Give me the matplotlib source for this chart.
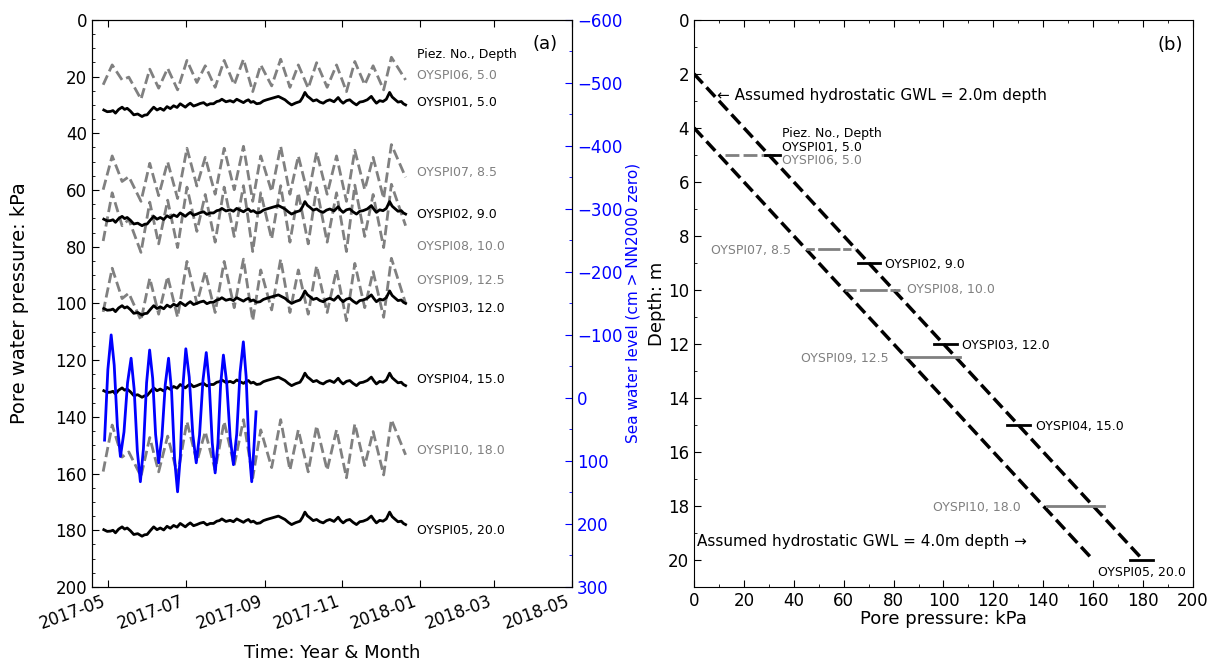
"""Pore water pressure time series (a) and pressure-depth profile (b)."""

import matplotlib
matplotlib.use("Agg")
import matplotlib.pyplot as plt
import matplotlib.dates as mdates
from matplotlib.ticker import MultipleLocator
import pandas as pd

START = pd.Timestamp("2017-05-01")

# ---- panel (a): time series, time in days after 2017-05-01 ----
solid_days = [
    -3.7, -1.0, 1.6, 3.5, 5.5, 8.0, 10.7, 12.7, 14.7, 17.3,
    19.9, 23.0, 26.4, 28.4, 30.4, 33.0, 35.6, 38.2, 40.8, 43.5,
    46.1, 48.7, 51.3, 54.0, 56.5, 58.5, 60.5, 62.5, 64.4, 67.0,
    69.6, 72.2, 74.9, 77.5, 80.1, 82.7, 85.3, 87.3, 89.3, 92.5,
    95.8, 98.4, 101.0, 103.6, 106.3, 108.2, 110.2, 112.1, 114.1, 116.7,
    119.4, 122.0, 124.6, 129.2, 133.8, 136.4, 139.0, 141.6, 144.2, 147.5,
    150.8, 152.7, 154.7, 156.6, 158.6, 161.2, 163.9, 166.5, 169.1, 171.7,
    174.3, 177.6, 180.9, 182.8, 184.8, 187.4, 190.0, 192.6, 195.3, 197.9,
    200.5, 203.8, 207.0, 209.0, 211.0, 213.6, 216.2, 218.8, 221.4, 223.4,
    225.4, 228.0, 230.6, 232.3, 234.0,
]
oyspi01 = [
    31.8, 32.4, 32.3, 32.0, 32.9, 31.6, 30.8, 31.6, 31.2, 32.2,
    33.5, 33.2, 34.1, 33.6, 33.5, 32.1, 30.8, 31.8, 31.2, 31.9,
    30.6, 31.3, 30.3, 30.9, 29.6, 30.2, 30.8, 30.0, 29.4, 30.4,
    30.0, 29.5, 29.2, 30.1, 29.6, 29.6, 28.8, 28.6, 28.0, 28.9,
    28.5, 29.0, 28.0, 28.6, 29.2, 28.6, 28.2, 29.1, 28.8, 29.6,
    29.4, 28.6, 28.2, 27.6, 27.0, 27.6, 28.2, 29.2, 30.0, 29.3,
    28.8, 27.5, 25.6, 26.9, 27.6, 28.6, 28.2, 29.0, 29.4, 28.6,
    28.2, 28.9, 27.4, 28.6, 29.4, 28.5, 28.2, 29.2, 30.0, 29.0,
    28.8, 28.2, 27.0, 28.3, 29.4, 28.5, 28.8, 28.0, 25.6, 27.2,
    28.0, 29.0, 28.8, 29.6, 30.0,
]
oyspi02 = [
    70.3, 70.9, 70.8, 70.5, 71.4, 70.1, 69.3, 70.1, 69.7, 70.7,
    72.0, 71.7, 72.6, 72.1, 72.0, 70.6, 69.3, 70.3, 69.7, 70.4,
    69.1, 69.8, 68.8, 69.4, 68.1, 68.7, 69.3, 68.5, 67.9, 68.9,
    68.5, 68.0, 67.7, 68.6, 68.1, 68.1, 67.3, 67.1, 66.5, 67.4,
    67.0, 67.5, 66.5, 67.1, 67.7, 67.1, 66.7, 67.6, 67.3, 68.1,
    67.9, 67.1, 66.7, 66.1, 65.5, 66.1, 66.7, 67.7, 68.5, 67.8,
    67.3, 66.0, 64.1, 65.4, 66.1, 67.1, 66.7, 67.5, 67.9, 67.1,
    66.7, 67.4, 65.9, 67.1, 67.9, 67.0, 66.7, 67.7, 68.5, 67.5,
    67.3, 66.7, 65.5, 66.8, 67.9, 67.0, 67.3, 66.5, 64.1, 65.7,
    66.5, 67.5, 67.3, 68.1, 68.5,
]
oyspi03 = [
    101.8, 102.4, 102.3, 102.0, 102.9, 101.6, 100.8, 101.6, 101.2, 102.2,
    103.5, 103.2, 104.1, 103.6, 103.5, 102.1, 100.8, 101.8, 101.2, 101.9,
    100.6, 101.3, 100.3, 100.9, 99.6, 100.2, 100.8, 100.0, 99.4, 100.4,
    100.0, 99.5, 99.2, 100.1, 99.6, 99.6, 98.8, 98.6, 98.0, 98.9,
    98.5, 99.0, 98.0, 98.6, 99.2, 98.6, 98.2, 99.1, 98.8, 99.6,
    99.4, 98.6, 98.2, 97.6, 97.0, 97.6, 98.2, 99.2, 100.0, 99.3,
    98.8, 97.5, 95.6, 96.9, 97.6, 98.6, 98.2, 99.0, 99.4, 98.6,
    98.2, 98.9, 97.4, 98.6, 99.4, 98.5, 98.2, 99.2, 100.0, 99.0,
    98.8, 98.2, 97.0, 98.3, 99.4, 98.5, 98.8, 98.0, 95.6, 97.2,
    98.0, 99.0, 98.8, 99.6, 100.0,
]
oyspi04 = [
    130.8, 131.4, 131.3, 131.0, 131.9, 130.6, 129.8, 130.6, 130.2, 131.2,
    132.5, 132.2, 133.1, 132.6, 132.5, 131.1, 129.8, 130.8, 130.2, 130.9,
    129.6, 130.3, 129.3, 129.9, 128.6, 129.2, 129.8, 129.0, 128.4, 129.4,
    129.0, 128.5, 128.2, 129.1, 128.6, 128.6, 127.8, 127.6, 127.0, 127.9,
    127.5, 128.0, 127.0, 127.6, 128.2, 127.6, 127.2, 128.1, 127.8, 128.6,
    128.4, 127.6, 127.2, 126.6, 126.0, 126.6, 127.2, 128.2, 129.0, 128.3,
    127.8, 126.5, 124.6, 125.9, 126.6, 127.6, 127.2, 128.0, 128.4, 127.6,
    127.2, 127.9, 126.4, 127.6, 128.4, 127.5, 127.2, 128.2, 129.0, 128.0,
    127.8, 127.2, 126.0, 127.3, 128.4, 127.5, 127.8, 127.0, 124.6, 126.2,
    127.0, 128.0, 127.8, 128.6, 129.0,
]
oyspi05 = [
    179.8, 180.4, 180.3, 180.0, 180.9, 179.6, 178.8, 179.6, 179.2, 180.2,
    181.5, 181.2, 182.1, 181.6, 181.5, 180.1, 178.8, 179.8, 179.2, 179.9,
    178.6, 179.3, 178.3, 178.9, 177.6, 178.2, 178.8, 178.0, 177.4, 178.4,
    178.0, 177.5, 177.2, 178.1, 177.6, 177.6, 176.8, 176.6, 176.0, 176.9,
    176.5, 177.0, 176.0, 176.6, 177.2, 176.6, 176.2, 177.1, 176.8, 177.6,
    177.4, 176.6, 176.2, 175.6, 175.0, 175.6, 176.2, 177.2, 178.0, 177.3,
    176.8, 175.5, 173.6, 174.9, 175.6, 176.6, 176.2, 177.0, 177.4, 176.6,
    176.2, 176.9, 175.4, 176.6, 177.4, 176.5, 176.2, 177.2, 178.0, 177.0,
    176.8, 176.2, 175.0, 176.3, 177.4, 176.5, 176.8, 176.0, 173.6, 175.2,
    176.0, 177.0, 176.8, 177.6, 178.0,
]

dashed_days = [
    -4.2, 2.9, 10.7, 16.0, 25.6, 32.5, 39.5, 46.6, 54.4, 61.8,
    69.6, 76.2, 84.0, 91.1, 99.0, 106.3, 113.6, 119.9, 128.5, 135.6,
    142.9, 149.5, 157.3, 163.9, 172.2, 179.6, 187.4, 194.0, 201.8, 208.4,
    216.7, 222.8, 234.0,
]
oyspi06 = [
    22.9, 15.9, 21.2, 20.2, 28.0, 17.4, 24.1, 17.1, 24.7, 14.3,
    22.1, 16.2, 23.8, 14.3, 22.9, 13.9, 25.3, 15.9, 23.3, 13.9,
    23.8, 15.9, 24.1, 15.1, 23.8, 15.9, 25.3, 14.7, 22.9, 16.2,
    24.7, 13.2, 21.2,
]
oyspi07 = [
    59.9, 48.0, 57.0, 55.3, 64.0, 50.6, 62.0, 50.1, 63.0, 45.3,
    58.6, 48.5, 61.5, 45.3, 59.9, 44.6, 64.0, 48.0, 60.6, 44.6,
    61.5, 48.0, 62.0, 46.7, 61.5, 48.0, 64.0, 46.0, 59.9, 48.5,
    63.0, 44.0, 55.5,
]
oyspi08 = [
    78.0, 61.0, 72.6, 70.4, 82.0, 64.3, 79.0, 63.6, 80.3, 59.0,
    74.6, 61.6, 78.4, 59.0, 76.4, 58.5, 81.7, 61.0, 77.3, 58.5,
    78.4, 61.0, 79.0, 59.2, 78.4, 61.0, 81.7, 58.3, 76.4, 61.6,
    80.3, 58.0, 72.6,
]
oyspi09 = [
    103.0, 87.6, 98.3, 96.4, 106.0, 91.1, 103.8, 90.5, 104.9, 85.2,
    100.0, 88.8, 103.2, 85.2, 101.5, 84.4, 106.1, 88.2, 102.3, 84.4,
    103.2, 88.2, 103.8, 86.7, 103.2, 88.2, 106.1, 85.9, 101.5, 88.8,
    104.9, 84.1, 100.0,
]
oyspi10 = [
    159.3, 142.9, 154.2, 152.4, 161.0, 147.3, 159.4, 146.8, 160.5, 141.7,
    155.8, 145.2, 158.8, 141.7, 157.2, 141.0, 161.5, 144.6, 157.9, 141.0,
    158.8, 144.6, 159.4, 143.2, 158.8, 144.6, 161.5, 142.5, 157.2, 145.2,
    160.5, 141.0, 153.4,
]

sea_days = [
    -3.1, -0.5, 2.1, 4.5, 7.0, 9.4, 12.2, 15.0, 17.8, 20.2,
    22.7, 25.1, 27.5, 30.0, 32.4, 34.8, 37.1, 39.5, 42.1, 44.7,
    47.3, 49.7, 52.0, 54.4, 56.6, 58.7, 60.9, 63.6, 66.4, 69.1,
    71.7, 74.4, 77.0, 79.3, 81.7, 84.0, 86.2, 88.3, 90.5, 93.1,
    95.8, 98.4, 101.0, 103.6, 106.2, 108.4, 110.6, 112.8, 114.5, 116.2,
]
sea_level = [
    67, -45, -100, -52, 45, 93, 54, -24, -63, -14,
    84, 133, 81, -24, -76, -31, 58, 103, 61, -21,
    -63, -10, 96, 149, 92, -21, -78, -33, 58, 103,
    59, -28, -72, -24, 71, 119, 72, -21, -68, -24,
    62, 106, 57, -40, -89, -34, 78, 133, 80, 22,
]

solid_names = ["OYSPI01", "OYSPI02", "OYSPI03", "OYSPI04", "OYSPI05"]
dashed_names = ["OYSPI06", "OYSPI07", "OYSPI08", "OYSPI09", "OYSPI10"]
solid_depths = [5.0, 9.0, 12.0, 15.0, 20.0]
dashed_depths = [5.0, 8.5, 10.0, 12.5, 18.0]

# ---- panel (b): pressure range recorded at each piezometer (kPa) ----
solid_min = [28.5, 65.7, 96.0, 125.3, 174.7]
solid_max = [34.5, 74.5, 105.3, 134.7, 184.1]
dashed_min = [12.4, 45.0, 60.5, 84.6, 141.4]
dashed_max = [34.5, 64.5, 82.6, 106.6, 164.2]

# assumed hydrostatic lines (pressure kPa, depth m)
gwl2_kpa = [0, 180]
gwl2_depth = [2.0, 20.0]
gwl4_kpa = [0, 160]
gwl4_depth = [4.0, 20.0]


def to_dates(days):
    return START + pd.to_timedelta(days, unit="D")


GRAY = "#808080"
LABEL_FS = 9

fig = plt.figure(figsize=(12.12, 6.61), dpi=100)
ax1 = fig.add_axes([0.0759, 0.112, 0.396, 0.858])
ax2 = fig.add_axes([0.5726, 0.112, 0.4117, 0.858])

# ---------------- panel (a) ----------------
dashed_series = [oyspi06, oyspi07, oyspi08, oyspi09, oyspi10]
solid_series = [oyspi01, oyspi02, oyspi03, oyspi04, oyspi05]
for vals in dashed_series:
    ax1.plot(to_dates(dashed_days), vals, color=GRAY, lw=2, ls="--")
for vals in solid_series:
    ax1.plot(to_dates(solid_days), vals, color="black", lw=2)

ax1.set_ylim(200, 0)
ax1.set_xlim(pd.Timestamp("2017-04-18"), pd.Timestamp("2018-05-01"))
ax1.xaxis.set_major_locator(mdates.MonthLocator(bymonth=[1, 3, 5, 7, 9, 11]))
ax1.xaxis.set_major_formatter(mdates.DateFormatter("%Y-%m"))
ax1.yaxis.set_major_locator(MultipleLocator(20))
ax1.yaxis.set_minor_locator(MultipleLocator(5))
ax1.tick_params(axis="x", which="both", direction="in", top=True, labelsize=12, length=5)
ax1.tick_params(axis="y", which="major", direction="in", labelsize=12, length=5)
ax1.tick_params(axis="y", which="minor", direction="in", length=2.5)
plt.setp(ax1.get_xticklabels(), rotation=20, ha="right")
ax1.set_ylabel("Pore water pressure: kPa", fontsize=14, labelpad=19)
ax1.set_xlabel("Time: Year & Month", fontsize=13, labelpad=8)
ax1.text(0.944, 0.958, "(a)", transform=ax1.transAxes, fontsize=13,
         ha="center", va="center")

# labels to the right of the traces
label_x = pd.Timestamp("2017-12-30")
solid_label_y = [29.3, 68.8, 101.9, 127.0, 180.2]
dashed_label_y = [19.8, 54.0, 80.1, 92.1, 152.0]
ax1.text(label_x, 12.3, "Piez. No., Depth", fontsize=LABEL_FS, va="center")
for name, depth, y in zip(solid_names, solid_depths, solid_label_y):
    ax1.text(label_x, y, f"{name}, {depth:.1f}", fontsize=LABEL_FS,
             va="center", color="black")
for name, depth, y in zip(dashed_names, dashed_depths, dashed_label_y):
    ax1.text(label_x, y, f"{name}, {depth:.1f}", fontsize=LABEL_FS,
             va="center", color=GRAY)

# sea level on a twin axis
ax1b = ax1.twinx()
ax1b.plot(to_dates(sea_days), sea_level, color="blue", lw=2)
ax1b.set_ylim(300, -600)
ax1b.yaxis.set_major_locator(MultipleLocator(100))
ax1b.yaxis.set_minor_locator(MultipleLocator(50))
ax1b.tick_params(axis="y", which="major", direction="in", colors="blue",
                 labelsize=12, length=5)
ax1b.tick_params(axis="y", which="minor", direction="in", colors="blue",
                 length=2.5)
ax1b.set_ylabel("Sea water level (cm > NN2000 zero)", color="blue",
                fontsize=11, labelpad=2)

# ---------------- panel (b) ----------------
ax2.plot(gwl2_kpa, gwl2_depth, color="black", lw=2.5, ls="--")
ax2.plot(gwl4_kpa, gwl4_depth, color="black", lw=2.5, ls="--")

dashed_styles = [(0, (5, 1.5)), (0, (3, 1.2, 8, 1)), (0, (4, 1.2, 10, 1)), "-", "-"]
for d, lo, hi, st in zip(dashed_depths, dashed_min, dashed_max, dashed_styles):
    ax2.plot([lo, hi], [d, d], color=GRAY, lw=2, ls=st)
for d, lo, hi in zip(solid_depths, solid_min, solid_max):
    ax2.plot([lo, hi], [d, d], color="black", lw=2)

# header block for the 5 m pair
ax2.text(35.3, 4.22, "Piez. No., Depth", fontsize=LABEL_FS, va="center")
ax2.text(35.3, 4.74, f"{solid_names[0]}, {solid_depths[0]:.1f}",
         fontsize=LABEL_FS, va="center")
ax2.text(35.3, 5.22, f"{dashed_names[0]}, {dashed_depths[0]:.1f}",
         fontsize=LABEL_FS, va="center", color=GRAY)

# other labels: right of the bar end, or left of the bar start
for i in (1, 2, 3):
    ax2.annotate(f"{solid_names[i]}, {solid_depths[i]:.1f}",
                 xy=(solid_max[i], solid_depths[i]), xytext=(4, -1),
                 textcoords="offset points", fontsize=LABEL_FS,
                 va="center", ha="left")
ax2.annotate(f"{solid_names[4]}, {solid_depths[4]:.1f}",
             xy=((solid_min[4] + solid_max[4]) / 2, solid_depths[4]),
             xytext=(0, -4), textcoords="offset points", fontsize=LABEL_FS,
             va="top", ha="center")
ax2.annotate(f"{dashed_names[2]}, {dashed_depths[2]:.1f}",
             xy=(dashed_max[2], dashed_depths[2]), xytext=(5, 0),
             textcoords="offset points", fontsize=LABEL_FS,
             va="center", ha="left", color=GRAY)
for i, off in ((1, -11), (3, -12), (4, -19)):
    ax2.annotate(f"{dashed_names[i]}, {dashed_depths[i]:.1f}",
                 xy=(dashed_min[i], dashed_depths[i]), xytext=(off, -1),
                 textcoords="offset points", fontsize=LABEL_FS,
                 va="center", ha="right", color=GRAY)

ax2.text(9.2, 2.81, "\u2190 Assumed hydrostatic GWL = 2.0m depth",
         fontsize=11, va="center")
ax2.text(1.2, 19.3, "Assumed hydrostatic GWL = 4.0m depth \u2192",
         fontsize=11, va="center")

ax2.set_xlim(0, 200)
ax2.set_ylim(21, 0)
ax2.xaxis.set_major_locator(MultipleLocator(20))
ax2.xaxis.set_minor_locator(MultipleLocator(10))
ax2.yaxis.set_major_locator(MultipleLocator(2))
ax2.yaxis.set_minor_locator(MultipleLocator(1))
ax2.tick_params(axis="both", which="major", direction="in", top=True,
                labelsize=12, length=5)
ax2.tick_params(axis="both", which="minor", direction="in", top=True,
                length=2.5)
ax2.set_xlabel("Pore pressure: kPa", fontsize=13, labelpad=0)
ax2.set_ylabel("Depth: m", fontsize=13, labelpad=1)
ax2.text(0.954, 0.956, "(b)", transform=ax2.transAxes, fontsize=13,
         ha="center", va="center")

fig.savefig("out.png", dpi=100)
